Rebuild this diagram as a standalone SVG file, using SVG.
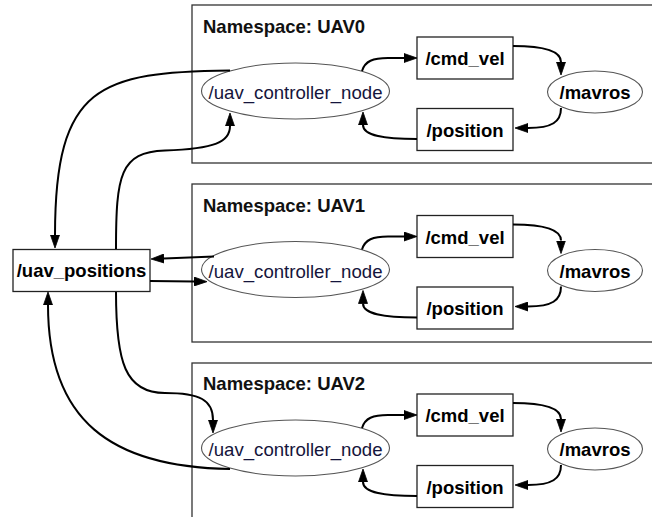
<svg xmlns="http://www.w3.org/2000/svg" width="652" height="517" viewBox="0 0 652 517">
<defs>
<marker id="ah" markerUnits="userSpaceOnUse" markerWidth="14" markerHeight="10" refX="0" refY="5" orient="auto" viewBox="0 0 14 10">
<path d="M0,0.5 L13,5 L0,9.5 Z" fill="#000" stroke="#000" stroke-width="0.8"/>
</marker>
<style>
.ns{fill:#fff;stroke:#333;stroke-width:1.3}
.title{font-family:"Liberation Sans",Arial,sans-serif;font-weight:bold;font-size:18.5px;fill:#111}
.box{fill:#fff;stroke:#222;stroke-width:1.3}
.ell{fill:#fff;stroke:#555;stroke-width:1.1}
.lb{font-family:"Liberation Sans",Arial,sans-serif;font-weight:bold;font-size:18.5px;fill:#000;text-anchor:middle}
.ln{font-family:"Liberation Sans",Arial,sans-serif;font-size:18.5px;fill:#15153c;text-anchor:middle}
.e{fill:none;stroke:#000;stroke-width:2;marker-end:url(#ah)}
</style>
</defs>
<rect width="652" height="517" fill="#fff"/>

<g id="ns_uav0">
<rect class="ns" x="192" y="5" width="480" height="158"/>
<text class="title" x="203" y="33">Namespace: UAV0</text>
</g>
<g id="ns_uav1">
<rect class="ns" x="192" y="184" width="480" height="158"/>
<text class="title" x="203" y="212">Namespace: UAV1</text>
</g>
<g id="ns_uav2">
<rect class="ns" x="192" y="363" width="480" height="180"/>
<text class="title" x="203" y="390">Namespace: UAV2</text>
</g>

<g id="uav_positions">
<rect class="box" x="13" y="249.5" width="137" height="42"/>
<text class="lb" x="81.5" y="277">/uav_positions</text>
</g>

<g id="uav0_controller">
<ellipse class="ell" cx="295.5" cy="91" rx="94" ry="28"/>
<text class="ln" x="295.5" y="99" textLength="174" lengthAdjust="spacingAndGlyphs">/uav_controller_node</text>
</g>
<g id="uav0_cmd_vel">
<rect class="box" x="417" y="37" width="96" height="42"/>
<text class="lb" x="465" y="65">/cmd_vel</text>
</g>
<g id="uav0_position">
<rect class="box" x="417" y="108.5" width="96" height="42"/>
<text class="lb" x="465" y="136.5">/position</text>
</g>
<g id="uav0_mavros">
<ellipse class="ell" cx="595" cy="92" rx="47.5" ry="21"/>
<text class="lb" x="595" y="99">/mavros</text>
</g>

<g id="uav1_controller">
<ellipse class="ell" cx="295.5" cy="269.5" rx="94" ry="28"/>
<text class="ln" x="295.5" y="277.5" textLength="174" lengthAdjust="spacingAndGlyphs">/uav_controller_node</text>
</g>
<g id="uav1_cmd_vel">
<rect class="box" x="417" y="215.5" width="96" height="42"/>
<text class="lb" x="465" y="243.5">/cmd_vel</text>
</g>
<g id="uav1_position">
<rect class="box" x="417" y="287" width="96" height="42"/>
<text class="lb" x="465" y="315">/position</text>
</g>
<g id="uav1_mavros">
<ellipse class="ell" cx="595" cy="270.5" rx="47.5" ry="21"/>
<text class="lb" x="595" y="277.5">/mavros</text>
</g>

<g id="uav2_controller">
<ellipse class="ell" cx="295.5" cy="448" rx="94" ry="28"/>
<text class="ln" x="295.5" y="456" textLength="174" lengthAdjust="spacingAndGlyphs">/uav_controller_node</text>
</g>
<g id="uav2_cmd_vel">
<rect class="box" x="417" y="394" width="96" height="42"/>
<text class="lb" x="465" y="422">/cmd_vel</text>
</g>
<g id="uav2_position">
<rect class="box" x="417" y="465.5" width="96" height="42"/>
<text class="lb" x="465" y="493.5">/position</text>
</g>
<g id="uav2_mavros">
<ellipse class="ell" cx="595" cy="449" rx="47.5" ry="21"/>
<text class="lb" x="595" y="456">/mavros</text>
</g>

<g id="connectors">
<!-- UAV0 internal -->
<path class="e" d="M362,71 C365,61 373,58 388,58 L404,58"/>
<path class="e" d="M513,46 C545,46 561,51 561,62"/>
<path class="e" d="M561,108 C561,122 552,128 528,128"/>
<path class="e" d="M417,139 C385,139 363,136 363,125"/>
<!-- UAV1 internal -->
<path class="e" d="M362,249.5 C365,239.5 373,236.5 388,236.5 L404,236.5"/>
<path class="e" d="M513,224.5 C545,224.5 561,229.5 561,240.5"/>
<path class="e" d="M561,286.5 C561,300.5 552,306.5 528,306.5"/>
<path class="e" d="M417,317.5 C385,317.5 363,314.5 363,303.5"/>
<!-- UAV2 internal -->
<path class="e" d="M362,428 C365,418 373,415 388,415 L404,415"/>
<path class="e" d="M513,403 C545,403 561,408 561,419"/>
<path class="e" d="M561,465 C561,479 552,485 528,485"/>
<path class="e" d="M417,496 C385,496 363,493 363,482"/>
<!-- cross-namespace -->
<path class="e" d="M230,70.5 C100,72 55,85 55,235"/>
<path class="e" d="M116,249 C116,175 120,152 165,150.5 C215,149 230,142 230,126"/>
<path class="e" d="M214,256.5 L164,258.5"/>
<path class="e" d="M150,281 L194,281.5"/>
<path class="e" d="M116,292 C116,362 125,393 165,393 C200,393 213,400 213,420"/>
<path class="e" d="M230,469 C110,467 48,420 48,305"/>
</g>
</svg>
